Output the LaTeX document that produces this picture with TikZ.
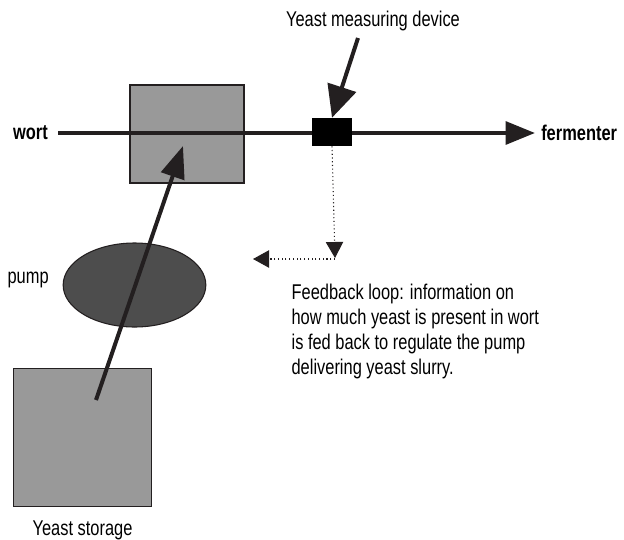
\documentclass[tikz,border=0pt]{standalone}
\usepackage{fontspec}
\setmainfont{Liberation Sans}[FakeStretch=0.77]
\usetikzlibrary{arrows.meta, positioning, shapes.geometric}
\definecolor{boxgray}{RGB}{153,153,153}
\definecolor{pumpgray}{RGB}{77,77,77}
\definecolor{linecol}{RGB}{35,31,32}
\tikzset{
    vessel/.style={rectangle, draw=linecol, line width=0.8pt, fill=boxgray},
    lbl/.style={font=\fontsize{16}{18.75}\selectfont, inner sep=1pt},
    boldlbl/.style={lbl, font=\fontsize{16}{18.75}\selectfont\bfseries},
    flow/.style={-{Triangle[length=22pt, width=17pt]}, line width=3pt, draw=linecol},
    feedback/.style={-{Triangle[length=12pt, width=13pt]}, line width=0.8pt, dotted, draw=linecol}
}

\begin{document}
\begin{tikzpicture}[x=0.75pt, y=-0.75pt]
    \useasboundingbox (0,0) rectangle (624,539);

    % vessels
    \node[vessel, minimum width=85.5pt, minimum height=73.5pt] (mixer) at (187,134) {};
    \node[vessel, minimum width=104pt, minimum height=104pt] (storage) at (82.5,437.5) {};
    \node[ellipse, draw=linecol, line width=0.8pt, fill=pumpgray,
        minimum width=107pt, minimum height=63pt] (pump) at (134.5,285) {};

    % labels
    \node[boldlbl, anchor=east, inner xsep=7.5pt] (wort) at (58,133) {wort};
    \node[boldlbl, anchor=west, inner xsep=4.5pt] (fermenter) at (535,133) {fermenter};
    \node[lbl] (devlabel) at (373,21) {Yeast measuring device};
    \node[lbl, anchor=west] (pumplabel) at (6,280) {pump};
    \node[lbl, below=9pt of storage] (storelabel) {Yeast storage};
    \node[lbl, anchor=north west, align=left] (note) at (290,282)
        {Feedback loop: information on\\how much yeast is present in wort\\is fed back to regulate the pump\\delivering yeast slurry.};

    % wort line and device
    \draw[flow] (wort.east) -- (fermenter.west);
    \node[rectangle, fill=black, minimum width=30pt, minimum height=21pt, inner sep=0pt] (device) at (332,132) {};

    % arrows
    \coordinate (devpoint) at (358,38);
    \coordinate (slurry) at (96,400);
    \coordinate (inlet) at (183,146);
    \coordinate (turn) at (335,258);
    \coordinate (back) at (253,259);
    \draw[flow, -{Triangle[length=24pt, width=22pt]}] (devpoint) -- (device.north);
    \draw[flow, -{Triangle[length=24pt, width=18pt]}] (slurry) -- (inlet);
    \draw[feedback] (device.south) -- (turn);
    \draw[feedback] (turn |- back) -- (back);
\end{tikzpicture}
\end{document}
